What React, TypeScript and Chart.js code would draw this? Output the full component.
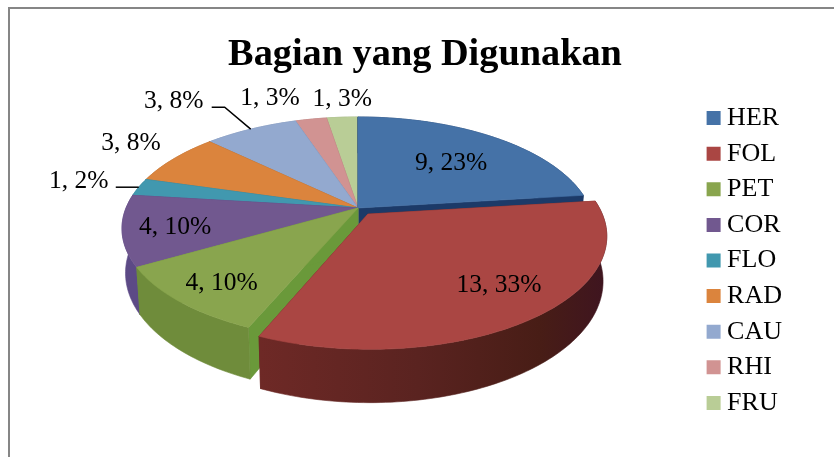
import React, { useEffect, useRef } from "react";
import { Chart, registerables } from "chart.js";

Chart.register(...registerables);

const categories = ["HER", "FOL", "PET", "COR", "FLO", "RAD", "CAU", "RHI", "FRU"];
const counts = [9, 13, 4, 4, 1, 3, 3, 1, 1];
const percents = ["23%", "33%", "10%", "10%", "2%", "8%", "8%", "3%", "3%"];
const topColors = ["#4572A7", "#AA4643", "#89A54E", "#71588F", "#4198AF", "#DB843D", "#93A9CF", "#D19392", "#B9CD96"];
const wallColors = ["#1C3A68", "#642522", "#6F8C3B", "#5C4A86", "#2E7A90", "#A8632C", "#7488AE", "#A87372", "#96A878"];
const faceColors = ["#1C3A68", "#642522", "#6A993A", "#5C4A86", "#2E7A90", "#A8632C", "#7488AE", "#A87372", "#96A878"];
const explode = [0, 0.07, 0, 0, 0, 0, 0, 0, 0];
const labelNudges = [[-42, 26], [-36, -32], [42, -18], [53, -3], [-60, -6], [-43, -15], [-77, -28], [-41, -21], [0, -18]];
const leaders: Record<number, number[][]> = {
  4: [[-23, 0], [-9, 0]],
  6: [[-39, -22], [-26, -22]],
};

const FONT = "'Liberation Serif', 'Times New Roman', serif";
const CX = 358, CY = 208, RX = 232, RY = 107.8, K = 0.184, DEPTH = 43, TAPER = 0.985;
const LEGEND_SHIFT = 32;

const proj = (u: number, v: number) => {
  const w = 1 - K * v;
  return { x: CX + (RX * u) / w, y: CY + (RY * v) / w, w };
};
const lower = (p: { x: number; y: number; w: number }) => ({
  x: CX + (p.x - CX) * TAPER,
  y: p.y + DEPTH / p.w,
  w: p.w,
});

const pie3d = {
  id: "pie3d",
  afterLayout(chart: any) {
    chart.legend.top += LEGEND_SHIFT;
    chart.legend.bottom += LEGEND_SHIFT;
  },
  beforeDatasetDraw(chart: any) {
    const ctx: CanvasRenderingContext2D = chart.ctx;
    const els = chart.getDatasetMeta(0).data;
    const slices = els.map((el: any, i: number) => {
      const { startAngle: a0, endAngle: a1 } = el.getProps(["startAngle", "endAngle"], true);
      const mid = (a0 + a1) / 2;
      const ou = Math.cos(mid) * explode[i];
      const ov = Math.sin(mid) * explode[i];
      const n = Math.max(4, Math.ceil((a1 - a0) / 0.02));
      const arc = [];
      for (let s = 0; s <= n; s++) {
        const a = a0 + ((a1 - a0) * s) / n;
        arc.push(proj(Math.cos(a) + ou, Math.sin(a) + ov));
      }
      return { i, mid, apex: proj(ou, ov), arc, sort: Math.sin(mid) };
    });
    const poly = (pts: { x: number; y: number }[], fill: any) => {
      ctx.beginPath();
      pts.forEach((p, j) => (j ? ctx.lineTo(p.x, p.y) : ctx.moveTo(p.x, p.y)));
      ctx.closePath();
      ctx.fillStyle = fill;
      ctx.strokeStyle = fill;
      ctx.lineWidth = 0.6;
      ctx.fill();
      ctx.stroke();
    };
    ctx.save();
    [...slices].sort((a, b) => a.sort - b.sort).forEach((s: any) => {
      const { i, apex, arc } = s;
      const first = arc[0], last = arc[arc.length - 1];
      poly([apex, first, lower(first), lower(apex)], faceColors[i]);
      poly([apex, last, lower(last), lower(apex)], faceColors[i]);
      let wall: any = wallColors[i];
      if (i === 1) {
        const g = ctx.createLinearGradient(260, 0, 610, 0);
        g.addColorStop(0, "#6E2926");
        g.addColorStop(0.45, "#5A2320");
        g.addColorStop(0.8, "#481D16");
        g.addColorStop(1, "#3E1420");
        wall = g;
      }
      poly([...arc, ...[...arc].reverse().map(lower)], wall);
      poly([apex, ...arc], topColors[i]);
    });
    ctx.restore();
    return false;
  },
  afterDatasetsDraw(chart: any) {
    const ctx: CanvasRenderingContext2D = chart.ctx;
    const els = chart.getDatasetMeta(0).data;
    ctx.save();
    ctx.font = `25.5px ${FONT}`;
    ctx.fillStyle = "#000";
    ctx.textAlign = "center";
    ctx.textBaseline = "middle";
    els.forEach((el: any, i: number) => {
      const { startAngle: a0, endAngle: a1 } = el.getProps(["startAngle", "endAngle"], true);
      const mid = (a0 + a1) / 2;
      const p = proj(Math.cos(mid) * (1 + explode[i]), Math.sin(mid) * (1 + explode[i]));
      const [nx, ny] = labelNudges[i];
      ctx.fillText(`${counts[i]}, ${percents[i]}`, p.x + nx, p.y + ny);
      const lead = leaders[i];
      if (lead) {
        ctx.beginPath();
        ctx.moveTo(p.x + lead[0][0], p.y + lead[0][1]);
        ctx.lineTo(p.x + lead[1][0], p.y + lead[1][1]);
        ctx.lineTo(p.x, p.y);
        ctx.strokeStyle = "#000";
        ctx.lineWidth = 1.5;
        ctx.stroke();
      }
    });
    ctx.restore();
  },
  beforeDraw(chart: any) {
    const ctx: CanvasRenderingContext2D = chart.ctx;
    ctx.save();
    ctx.fillStyle = "#fff";
    ctx.fillRect(0, 0, chart.width, chart.height);
    ctx.fillStyle = "#868686";
    ctx.fillRect(8, 7, chart.width - 8, 2);
    ctx.fillRect(8, 7, 2, chart.height - 7);
    ctx.restore();
  },
};

export default function App() {
  const ref = useRef<HTMLCanvasElement>(null);
  useEffect(() => {
    const chart = new Chart(ref.current!, {
      type: "pie",
      data: {
        labels: categories,
        datasets: [{ data: counts, backgroundColor: topColors, borderWidth: 0 }],
      },
      options: {
        responsive: false,
        animation: false,
        layout: { padding: { left: 58, right: 42, top: 32, bottom: 32 } },
        plugins: {
          title: {
            display: true,
            text: "Bagian yang Digunakan",
            color: "#000",
            font: { family: FONT, size: 38.3, weight: "bold" },
            padding: { top: 0, bottom: 0 },
          },
          legend: {
            position: "right",
            labels: {
              usePointStyle: true,
              pointStyle: "rect",
              boxWidth: 1,
              boxHeight: 14,
              padding: 9.6,
              color: "#000",
              font: { family: FONT, size: 26 },
              generateLabels: () =>
                categories.map((t, i) => ({
                  text: t,
                  fillStyle: topColors[i],
                  strokeStyle: topColors[i],
                  lineWidth: 0,
                  pointStyle: "rect",
                  index: i,
                  fontColor: "#000",
                })),
            },
          },
          tooltip: { enabled: false },
        },
      } as any,
      plugins: [pie3d as any],
    });
    return () => chart.destroy();
  }, []);
  return (
    <div style={{ position: "fixed", left: 0, top: 0, width: 834, height: 457, background: "#fff" }}>
      <canvas ref={ref} width={834} height={457} style={{ display: "block" }} />
    </div>
  );
}
